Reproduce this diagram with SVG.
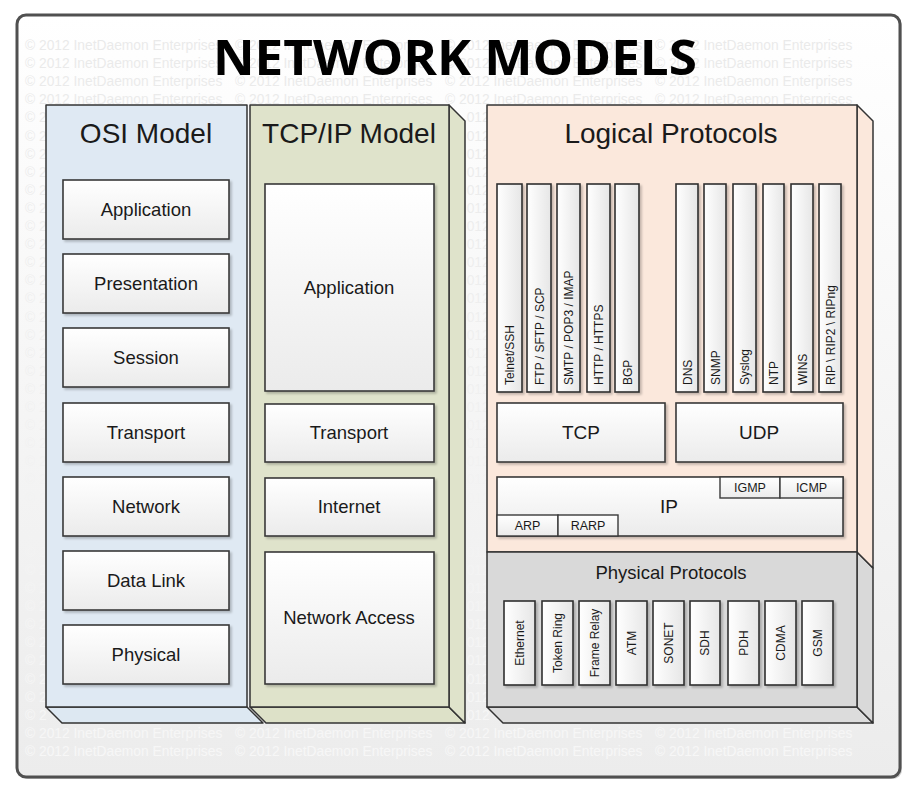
<svg xmlns="http://www.w3.org/2000/svg" width="917" height="790" viewBox="0 0 917 790">
<defs>
<linearGradient id="bg" x1="0" y1="0" x2="0" y2="1"><stop offset="0" stop-color="#ffffff"/><stop offset="1" stop-color="#ececec"/></linearGradient>
<linearGradient id="wmg" gradientUnits="userSpaceOnUse" x1="0" y1="15" x2="0" y2="777"><stop offset="0" stop-color="#e9e9e9"/><stop offset="1" stop-color="#f7f7f7"/></linearGradient>
<linearGradient id="box" x1="0" y1="0" x2="0" y2="1"><stop offset="0" stop-color="#ffffff"/><stop offset="1" stop-color="#ebebeb"/></linearGradient>
<linearGradient id="vbox" x1="0" y1="0" x2="1" y2="0"><stop offset="0" stop-color="#ffffff"/><stop offset="1" stop-color="#e6e6e6"/></linearGradient>
<filter id="sh" x="-10%" y="-10%" width="130%" height="130%"><feDropShadow dx="2" dy="2" stdDeviation="1" flood-color="#000" flood-opacity="0.22"/></filter>
</defs>
<style>
.wm{font-family:"Liberation Sans",Arial,sans-serif;font-size:13.8px;fill:url(#wmg)}
.col{stroke:#333;stroke-width:1.5;stroke-linejoin:round}
.b{fill:url(#box);stroke:#3a3a3a;stroke-width:1.6;filter:url(#sh)}
.v{fill:url(#vbox);stroke:#2f2f2f;stroke-width:1.6;filter:url(#sh)}
.s{fill:url(#box);stroke:#3a3a3a;stroke-width:1.4}
.t{font-family:"Liberation Sans",Arial,sans-serif;fill:#1a1a1a}
.h{font-size:28px;text-anchor:middle}
.l{font-size:18.5px;text-anchor:middle}
.m{font-size:19px;text-anchor:middle}
.sm{font-size:12.5px;text-anchor:middle}
.vt{font-size:12px}
.vm{font-size:12px;text-anchor:middle}
</style>
<g id="frame">
<rect x="19" y="17" width="883" height="762" rx="9" fill="#9a9a9a" opacity="0.5"/>
<rect x="17" y="15" width="883" height="762" rx="9" fill="url(#bg)" stroke="#505050" stroke-width="3"/>
</g>
<g id="watermark" class="wm">
<text y="50"><tspan x="25">© 2012 InetDaemon Enterprises</tspan><tspan x="235">© 2012 InetDaemon Enterprises</tspan><tspan x="445">© 2012 InetDaemon Enterprises</tspan><tspan x="655">© 2012 InetDaemon Enterprises</tspan></text>
<text y="68.1"><tspan x="25">© 2012 InetDaemon Enterprises</tspan><tspan x="235">© 2012 InetDaemon Enterprises</tspan><tspan x="445">© 2012 InetDaemon Enterprises</tspan><tspan x="655">© 2012 InetDaemon Enterprises</tspan></text>
<text y="86.2"><tspan x="25">© 2012 InetDaemon Enterprises</tspan><tspan x="235">© 2012 InetDaemon Enterprises</tspan><tspan x="445">© 2012 InetDaemon Enterprises</tspan><tspan x="655">© 2012 InetDaemon Enterprises</tspan></text>
<text y="104.3"><tspan x="25">© 2012 InetDaemon Enterprises</tspan><tspan x="235">© 2012 InetDaemon Enterprises</tspan><tspan x="445">© 2012 InetDaemon Enterprises</tspan><tspan x="655">© 2012 InetDaemon Enterprises</tspan></text>
<text y="122.4"><tspan x="25">© 2</tspan><tspan x="466.7">012</tspan></text>
<text y="140.5"><tspan x="25">© 2</tspan><tspan x="466.7">012</tspan></text>
<text y="158.6"><tspan x="25">© 2</tspan><tspan x="466.7">012</tspan></text>
<text y="176.7"><tspan x="25">© 2</tspan><tspan x="466.7">012</tspan></text>
<text y="194.8"><tspan x="25">© 2</tspan><tspan x="466.7">012</tspan></text>
<text y="212.9"><tspan x="25">© 2</tspan><tspan x="466.7">012</tspan></text>
<text y="231"><tspan x="25">© 2</tspan><tspan x="466.7">012</tspan></text>
<text y="249.1"><tspan x="25">© 2</tspan><tspan x="466.7">012</tspan></text>
<text y="267.2"><tspan x="25">© 2</tspan><tspan x="466.7">012</tspan></text>
<text y="285.3"><tspan x="25">© 2</tspan><tspan x="466.7">012</tspan></text>
<text y="303.4"><tspan x="25">© 2</tspan><tspan x="466.7">012</tspan></text>
<text y="321.5"><tspan x="25">© 2</tspan><tspan x="466.7">012</tspan></text>
<text y="339.6"><tspan x="25">© 2</tspan><tspan x="466.7">012</tspan></text>
<text y="357.7"><tspan x="25">© 2</tspan><tspan x="466.7">012</tspan></text>
<text y="375.8"><tspan x="25">© 2</tspan><tspan x="466.7">012</tspan></text>
<text y="393.9"><tspan x="25">© 2</tspan><tspan x="466.7">012</tspan></text>
<text y="412"><tspan x="25">© 2</tspan><tspan x="466.7">012</tspan></text>
<text y="430.1"><tspan x="25">© 2</tspan><tspan x="466.7">012</tspan></text>
<text y="448.2"><tspan x="25">© 2</tspan><tspan x="466.7">012</tspan></text>
<text y="466.3"><tspan x="25">© 2</tspan><tspan x="466.7">012</tspan></text>
<text y="484.4"><tspan x="25">© 2</tspan><tspan x="466.7">012</tspan></text>
<text y="502.5"><tspan x="25">© 2</tspan><tspan x="466.7">012</tspan></text>
<text y="520.6"><tspan x="25">© 2</tspan><tspan x="466.7">012</tspan></text>
<text y="538.7"><tspan x="25">© 2</tspan><tspan x="466.7">012</tspan></text>
<text y="556.8"><tspan x="25">© 2</tspan><tspan x="466.7">012</tspan></text>
<text y="574.9"><tspan x="25">© 2</tspan><tspan x="466.7">012</tspan></text>
<text y="593"><tspan x="25">© 2</tspan><tspan x="466.7">012</tspan></text>
<text y="611.1"><tspan x="25">© 2</tspan><tspan x="466.7">012</tspan></text>
<text y="629.2"><tspan x="25">© 2</tspan><tspan x="466.7">012</tspan></text>
<text y="647.3"><tspan x="25">© 2</tspan><tspan x="466.7">012</tspan></text>
<text y="665.4"><tspan x="25">© 2</tspan><tspan x="466.7">012</tspan></text>
<text y="683.5"><tspan x="25">© 2</tspan><tspan x="466.7">012</tspan></text>
<text y="701.6"><tspan x="25">© 2</tspan><tspan x="466.7">012</tspan></text>
<text y="719.7"><tspan x="25">© 2</tspan><tspan x="466.7">012</tspan></text>
<text y="737.8"><tspan x="25">© 2012 InetDaemon Enterprises</tspan><tspan x="235">© 2012 InetDaemon Enterprises</tspan><tspan x="445">© 2012 InetDaemon Enterprises</tspan><tspan x="655">© 2012 InetDaemon Enterprises</tspan></text>
<text y="755.9"><tspan x="25">© 2012 InetDaemon Enterprises</tspan><tspan x="235">© 2012 InetDaemon Enterprises</tspan><tspan x="445">© 2012 InetDaemon Enterprises</tspan><tspan x="655">© 2012 InetDaemon Enterprises</tspan></text>
</g>
<g id="title">
<text x="455" y="75" text-anchor="middle" textLength="484" lengthAdjust="spacingAndGlyphs" style="font-family:'Open Sans','Liberation Sans',sans-serif;font-weight:700;font-size:49px;fill:#000">NETWORK MODELS</text>
</g>
<g id="osi-model">
<polygon class="col" points="46,707 62,723 263,723 247,707" fill="#dde8f2"/>
<rect class="col" x="46" y="105" width="201" height="602" fill="#dfe9f3"/>
<text class="t h" x="146" y="143">OSI Model</text>
<g id="osi-application"><rect class="b" x="63" y="180" width="166" height="59"/><text class="t l" x="146" y="216">Application</text></g>
<g id="osi-presentation"><rect class="b" x="63" y="254" width="166" height="59"/><text class="t l" x="146" y="290">Presentation</text></g>
<g id="osi-session"><rect class="b" x="63" y="328" width="166" height="59"/><text class="t l" x="146" y="364">Session</text></g>
<g id="osi-transport"><rect class="b" x="63" y="403" width="166" height="59"/><text class="t l" x="146" y="439">Transport</text></g>
<g id="osi-network"><rect class="b" x="63" y="477" width="166" height="59"/><text class="t l" x="146" y="513">Network</text></g>
<g id="osi-datalink"><rect class="b" x="63" y="551" width="166" height="59"/><text class="t l" x="146" y="587">Data Link</text></g>
<g id="osi-physical"><rect class="b" x="63" y="625" width="166" height="59"/><text class="t l" x="146" y="661">Physical</text></g>
</g>
<g id="tcpip-model">
<polygon class="col" points="250,707 266,723 465,723 449,707" fill="#dde1c8"/>
<polygon class="col" points="449,105 465,121 465,723 449,707" fill="#dfe3cb"/>
<rect class="col" x="250" y="105" width="199" height="602" fill="#dfe3cb"/>
<text class="t h" x="349" y="143">TCP/IP Model</text>
<g id="tcp-application"><rect class="b" x="265" y="184" width="169" height="207"/><text class="t l" x="349" y="294">Application</text></g>
<g id="tcp-transport"><rect class="b" x="265" y="404" width="169" height="58"/><text class="t l" x="349" y="439">Transport</text></g>
<g id="tcp-internet"><rect class="b" x="265" y="478" width="169" height="58"/><text class="t l" x="349" y="513">Internet</text></g>
<g id="tcp-networkaccess"><rect class="b" x="265" y="552" width="169" height="132"/><text class="t l" x="349" y="624">Network Access</text></g>
</g>
<g id="protocols">
<polygon class="col" points="487,707 503,723 873,723 857,707" fill="#dcdcdc"/>
<polygon class="col" points="857,552 873,568 873,723 857,707" fill="#d9d9d9"/>
<polygon class="col" points="857,105 873,121 873,568 857,552" fill="#fbe8dc"/>
<rect class="col" x="487" y="105" width="370" height="447" fill="#fbe8dc"/>
<rect class="col" x="487" y="552" width="370" height="155" fill="#d9d9d9"/>
<text class="t h" x="671" y="143">Logical Protocols</text>
<g id="app-protocols">
<g id="p-telnet"><rect class="v" x="497" y="184" width="25" height="208"/><text class="t vt" transform="translate(514,385) rotate(-90)">Telnet/SSH</text></g>
<g id="p-ftp"><rect class="v" x="527" y="184" width="24" height="208"/><text class="t vt" transform="translate(543.5,385) rotate(-90)">FTP / SFTP / SCP</text></g>
<g id="p-smtp"><rect class="v" x="557" y="184" width="23" height="208"/><text class="t vt" transform="translate(573,385) rotate(-90)">SMTP / POP3 / IMAP</text></g>
<g id="p-http"><rect class="v" x="587" y="184" width="23" height="208"/><text class="t vt" transform="translate(603,385) rotate(-90)">HTTP / HTTPS</text></g>
<g id="p-bgp"><rect class="v" x="615" y="184" width="24" height="208"/><text class="t vt" transform="translate(631.5,385) rotate(-90)">BGP</text></g>
<g id="p-dns"><rect class="v" x="676" y="184" width="22" height="208"/><text class="t vt" transform="translate(691.5,385) rotate(-90)">DNS</text></g>
<g id="p-snmp"><rect class="v" x="704" y="184" width="22" height="208"/><text class="t vt" transform="translate(719.5,385) rotate(-90)">SNMP</text></g>
<g id="p-syslog"><rect class="v" x="733" y="184" width="23" height="208"/><text class="t vt" transform="translate(749,385) rotate(-90)">Syslog</text></g>
<g id="p-ntp"><rect class="v" x="763" y="184" width="21" height="208"/><text class="t vt" transform="translate(778,385) rotate(-90)">NTP</text></g>
<g id="p-wins"><rect class="v" x="791" y="184" width="22" height="208"/><text class="t vt" transform="translate(806.5,385) rotate(-90)">WINS</text></g>
<g id="p-rip"><rect class="v" x="819" y="184" width="22" height="208"/><text class="t vt" transform="translate(834.5,385) rotate(-90)">RIP \ RIP2 \ RIPng</text></g>
</g>
<g id="p-tcp"><rect class="b" x="497" y="403" width="168" height="59"/><text class="t m" x="581" y="439">TCP</text></g>
<g id="p-udp"><rect class="b" x="676" y="403" width="167" height="59"/><text class="t m" x="759" y="439">UDP</text></g>
<g id="p-ip"><rect class="b" x="497" y="477" width="346" height="59"/><text class="t m" x="669" y="513">IP</text>
<g id="p-igmp"><rect class="s" x="720" y="477" width="60" height="21"/><text class="t sm" x="750" y="492">IGMP</text></g>
<g id="p-icmp"><rect class="s" x="780" y="477" width="63" height="21"/><text class="t sm" x="811.5" y="492">ICMP</text></g>
<g id="p-arp"><rect class="s" x="497" y="515" width="61" height="21"/><text class="t sm" x="527.5" y="530">ARP</text></g>
<g id="p-rarp"><rect class="s" x="558" y="515" width="60" height="21"/><text class="t sm" x="588" y="530">RARP</text></g>
</g>
<text class="t l" x="671" y="579">Physical Protocols</text>
<g id="phys-protocols">
<g id="ph-ethernet"><rect class="v" x="504" y="601" width="31" height="84"/><text class="t vm" transform="translate(523.8,643) rotate(-90)">Ethernet</text></g>
<g id="ph-tokenring"><rect class="v" x="542" y="601" width="31" height="84"/><text class="t vm" transform="translate(561.8,643) rotate(-90)">Token Ring</text></g>
<g id="ph-framerelay"><rect class="v" x="579" y="601" width="31" height="84"/><text class="t vm" transform="translate(598.8,643) rotate(-90)">Frame Relay</text></g>
<g id="ph-atm"><rect class="v" x="616" y="601" width="31" height="84"/><text class="t vm" transform="translate(635.8,643) rotate(-90)">ATM</text></g>
<g id="ph-sonet"><rect class="v" x="653" y="601" width="31" height="84"/><text class="t vm" transform="translate(672.8,643) rotate(-90)">SONET</text></g>
<g id="ph-sdh"><rect class="v" x="690" y="601" width="30" height="84"/><text class="t vm" transform="translate(709.3,643) rotate(-90)">SDH</text></g>
<g id="ph-pdh"><rect class="v" x="728" y="601" width="31" height="84"/><text class="t vm" transform="translate(747.8,643) rotate(-90)">PDH</text></g>
<g id="ph-cdma"><rect class="v" x="765" y="601" width="31" height="84"/><text class="t vm" transform="translate(784.8,643) rotate(-90)">CDMA</text></g>
<g id="ph-gsm"><rect class="v" x="802" y="601" width="31" height="84"/><text class="t vm" transform="translate(821.8,643) rotate(-90)">GSM</text></g>
</g>
</g>
<g id="connectors"></g>
</svg>
